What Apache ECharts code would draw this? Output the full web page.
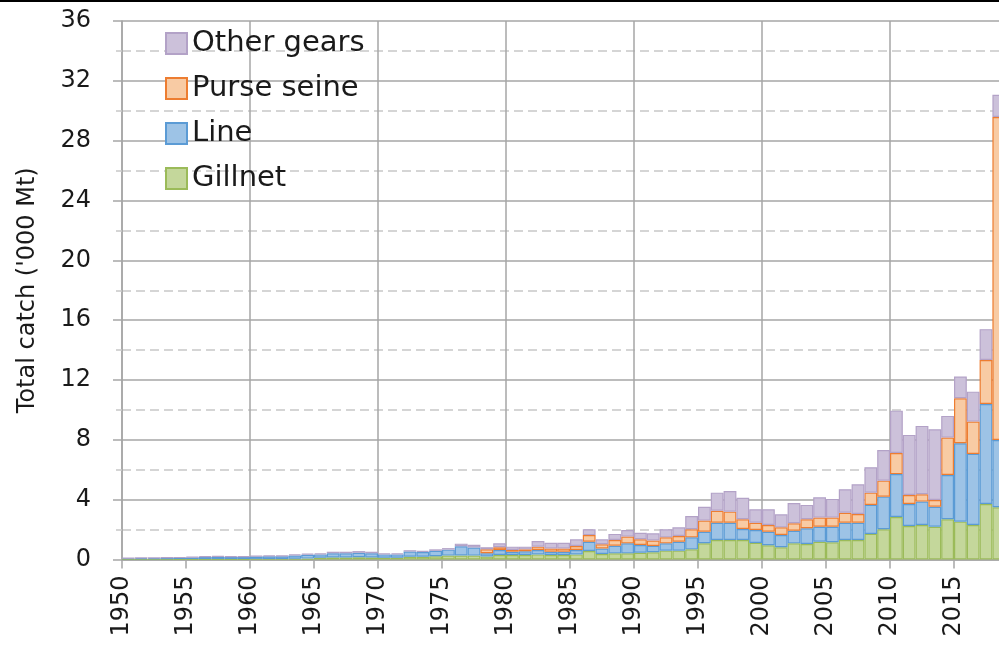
<!DOCTYPE html>
<html>
<head>
<meta charset="utf-8">
<script src="https://cdn.jsdelivr.net/npm/echarts@6/dist/echarts.min.js"></script>
<style>
  html, body { margin: 0; padding: 0; background: #fff; overflow: hidden; }
  /* the plot runs past the right edge of the window: the last year is cut off */
  #chart { width: 1006px; height: 654px; }
</style>
</head>
<body>
<div id="chart"></div>
<script>
// Annual catch by gear type, thousand tonnes
const years = [
  1950, 1951, 1952, 1953, 1954, 1955, 1956, 1957, 1958, 1959,
  1960, 1961, 1962, 1963, 1964, 1965, 1966, 1967, 1968, 1969,
  1970, 1971, 1972, 1973, 1974, 1975, 1976, 1977, 1978, 1979,
  1980, 1981, 1982, 1983, 1984, 1985, 1986, 1987, 1988, 1989,
  1990, 1991, 1992, 1993, 1994, 1995, 1996, 1997, 1998, 1999,
  2000, 2001, 2002, 2003, 2004, 2005, 2006, 2007, 2008, 2009,
  2010, 2011, 2012, 2013, 2014, 2015, 2016, 2017, 2018
];

const gillnet = [
  0.02, 0.02, 0.02, 0.02, 0.03, 0.03, 0.03, 0.03, 0.03, 0.03,
  0.04, 0.04, 0.04, 0.05, 0.06, 0.12, 0.14, 0.14, 0.15, 0.14,
  0.12, 0.12, 0.18, 0.18, 0.22, 0.26, 0.27, 0.26, 0.20, 0.30,
  0.30, 0.30, 0.34, 0.30, 0.30, 0.34, 0.57, 0.37, 0.41, 0.41,
  0.45, 0.48, 0.59, 0.59, 0.68, 1.09, 1.30, 1.30, 1.30, 1.11,
  0.95, 0.82, 1.08, 1.04, 1.19, 1.15, 1.30, 1.30, 1.71, 2.02,
  2.84, 2.24, 2.31, 2.19, 2.69, 2.53, 2.31, 3.71, 3.49
];

const line = [
  0.06, 0.07, 0.08, 0.09, 0.09, 0.11, 0.14, 0.15, 0.14, 0.14,
  0.16, 0.17, 0.17, 0.22, 0.26, 0.22, 0.28, 0.28, 0.30, 0.28,
  0.22, 0.22, 0.35, 0.32, 0.36, 0.40, 0.62, 0.54, 0.22, 0.34,
  0.22, 0.25, 0.30, 0.22, 0.22, 0.30, 0.62, 0.37, 0.51, 0.67,
  0.52, 0.43, 0.49, 0.60, 0.80, 0.77, 1.16, 1.16, 0.74, 0.86,
  0.91, 0.82, 0.84, 1.05, 1.00, 1.04, 1.16, 1.16, 1.94, 2.18,
  2.87, 1.47, 1.56, 1.34, 2.96, 5.24, 4.75, 6.69, 4.50
];

const purseSeine = [
  0, 0, 0, 0, 0, 0, 0, 0, 0, 0,
  0, 0, 0, 0, 0, 0, 0, 0, 0, 0,
  0, 0, 0, 0, 0, 0, 0, 0, 0.26, 0.18,
  0.12, 0.13, 0.22, 0.22, 0.22, 0.26, 0.44, 0.28, 0.38, 0.45,
  0.38, 0.36, 0.40, 0.38, 0.54, 0.74, 0.80, 0.74, 0.65, 0.49,
  0.45, 0.51, 0.50, 0.60, 0.61, 0.61, 0.67, 0.58, 0.82, 1.07,
  1.41, 0.60, 0.49, 0.45, 2.50, 3.01, 2.16, 2.94, 21.59
];

const otherGears = [
  0.02, 0.03, 0.03, 0.03, 0.03, 0.04, 0.05, 0.06, 0.05, 0.05,
  0.06, 0.07, 0.06, 0.08, 0.08, 0.08, 0.10, 0.10, 0.11, 0.10,
  0.08, 0.08, 0.09, 0.08, 0.10, 0.10, 0.17, 0.18, 0.14, 0.26,
  0.22, 0.18, 0.38, 0.38, 0.38, 0.45, 0.39, 0.33, 0.41, 0.44,
  0.44, 0.48, 0.54, 0.58, 0.89, 0.93, 1.21, 1.38, 1.44, 0.90,
  1.05, 0.87, 1.36, 0.96, 1.36, 1.25, 1.57, 1.99, 1.70, 2.05,
  2.83, 4.02, 4.57, 4.73, 1.45, 1.45, 2.00, 2.06, 1.49
];

const legendOrder = ['Other gears', 'Purse seine', 'Line', 'Gillnet'];

const FONT = 'DejaVu Sans';
const TEXT = '#1a1a1a';
const GRID_SOLID = '#a6a6a6';
const GRID_DASH = '#c8c8c8';

const firstYear = years[0];
const endYear = years[years.length - 1] + 1;   // right edge of the last year's band

function gearSeries(name, values, fill, border) {
  return {
    name: name,
    type: 'bar',
    stack: 'catch',
    xAxisIndex: 0,
    barWidth: '100%',
    data: values.map(v => (v === 0 ? null : v)),
    itemStyle: { color: fill, borderColor: border, borderWidth: 1.2 },
    emphasis: { disabled: true }
  };
}

const chart = echarts.init(document.getElementById('chart'), null, { renderer: 'canvas' });

chart.setOption({
  animation: false,
  textStyle: { fontFamily: FONT },
  graphic: [{
    type: 'rect',
    shape: { x: 0, y: 0, width: 1006, height: 2 },
    style: { fill: '#000' },
    silent: true
  }],
  grid: { left: 122, top: 21, width: 883.2, height: 538.5 },
  legend: {
    orient: 'vertical',
    left: 160,
    top: 24,
    itemWidth: 21,
    itemHeight: 21,
    itemGap: 16,
    icon: 'rect',
    data: legendOrder,
    textStyle: { fontSize: 29, color: TEXT, fontFamily: FONT }
  },
  xAxis: [
    {
      // one band per year, carries the bars
      type: 'category',
      data: years.map(String),
      boundaryGap: true,
      show: false
    },
    {
      // year ticks and labels every 5 years
      type: 'value',
      min: firstYear,
      max: endYear,
      interval: 5,
      position: 'bottom',
      axisLine: { show: true, onZero: false, lineStyle: { color: GRID_SOLID, width: 1.5 } },
      axisTick: { show: true, length: 9, lineStyle: { color: GRID_SOLID, width: 1.5 } },
      axisLabel: {
        rotate: 90,
        fontSize: 24,
        color: TEXT,
        margin: 16,
        fontFamily: FONT,
        showMaxLabel: false,
        formatter: v => String(v)
      },
      splitLine: { show: false }
    },
    {
      // vertical gridlines every decade
      type: 'value',
      min: firstYear,
      max: endYear,
      interval: 10,
      position: 'bottom',
      axisLine: { show: false },
      axisTick: { show: false },
      axisLabel: { show: false },
      splitLine: { show: true, lineStyle: { color: GRID_SOLID, width: 1.5 } }
    }
  ],
  yAxis: {
    type: 'value',
    min: 0,
    max: 36,
    interval: 4,
    name: "Total catch ('000 Mt)",
    nameLocation: 'middle',
    nameGap: 82,
    nameTextStyle: { fontSize: 24, color: TEXT, fontFamily: FONT },
    axisLine: { show: true, lineStyle: { color: GRID_SOLID, width: 1.5 } },
    axisTick: { show: true, length: 9, lineStyle: { color: GRID_SOLID, width: 1.5 } },
    minorTick: { show: true, splitNumber: 2, length: 6, lineStyle: { color: GRID_DASH, width: 1.5 } },
    axisLabel: { fontSize: 24, color: TEXT, margin: 31, fontFamily: FONT },
    splitLine: { show: true, lineStyle: { color: GRID_SOLID, width: 1.5 } },
    minorSplitLine: { show: true, lineStyle: { color: GRID_DASH, width: 1.5, type: [9, 5] } }
  },
  series: [
    gearSeries('Gillnet', gillnet, '#c4d79b', '#9bbb59'),
    gearSeries('Line', line, '#9dc3e6', '#5b9bd5'),
    gearSeries('Purse seine', purseSeine, '#f8cba4', '#ed7d31'),
    gearSeries('Other gears', otherGears, '#ccc1da', '#b3a2c7')
  ]
});
</script>
</body>
</html>
